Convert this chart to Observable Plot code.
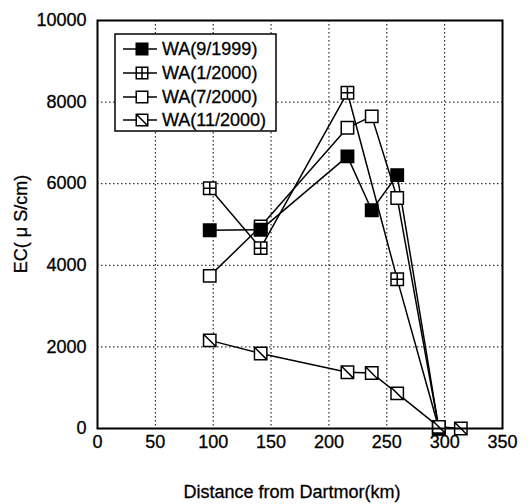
<!DOCTYPE html>
<html>
<head>
<meta charset="utf-8">
<script src="https://cdn.jsdelivr.net/npm/d3@7"></script>
<script src="https://cdn.jsdelivr.net/npm/@observablehq/plot@0.6"></script>
<style>
  body { margin: 0; background: #fff; }
  #chart { width: 531px; height: 504px; }
  #chart svg text { stroke: black; stroke-width: 0.3px; }
</style>
</head>
<body>
<div id="chart"></div>
<script>
// EC along the river, by distance from Dartmor, four sampling campaigns
const seriesNames = ["WA(9/1999)", "WA(1/2000)", "WA(7/2000)", "WA(11/2000)"];

const dist1999 = [97, 141, 216, 237, 259, 295];
const ec1999   = [4860, 4870, 6670, 5350, 6210, 0];

const dist0100 = [97, 141, 216, 259, 295];
const ec0100   = [5890, 4420, 8230, 3660, 0];

const dist0700 = [97, 141, 216, 237, 259, 295];
const ec0700   = [3740, 4950, 7370, 7650, 5650, 0];

const dist1100 = [97, 141, 216, 237, 259, 295, 314];
const ec1100   = [2160, 1840, 1380, 1360, 860, 40, 0];

const xTicks = [0, 50, 100, 150, 200, 250, 300, 350];
const yTicks = [0, 2000, 4000, 6000, 8000, 10000];

// square with a cross inside
const squarePlus = {
  draw(ctx, size) {
    const s = Math.sqrt(size) / 2;
    ctx.moveTo(-s, -s); ctx.lineTo(s, -s); ctx.lineTo(s, s); ctx.lineTo(-s, s); ctx.closePath();
    ctx.moveTo(0, -s); ctx.lineTo(0, s);
    ctx.moveTo(-s, 0); ctx.lineTo(s, 0);
  }
};
// square with a diagonal
const squareSlash = {
  draw(ctx, size) {
    const s = Math.sqrt(size) / 2;
    ctx.moveTo(-s, -s); ctx.lineTo(s, -s); ctx.lineTo(s, s); ctx.lineTo(-s, s); ctx.closePath();
    ctx.moveTo(-s, -s); ctx.lineTo(s, s);
  }
};

const rows = (name, xs, ys) => xs.map((x, i) => ({ series: name, x, y: ys[i] }));
const d1999 = rows(seriesNames[0], dist1999, ec1999);
const d0100 = rows(seriesNames[1], dist0100, ec0100);
const d0700 = rows(seriesNames[2], dist0700, ec0700);
const d1100 = rows(seriesNames[3], dist1100, ec1100);

const styles = [
  { data: d1999, symbol: "square", fill: "black" },
  { data: d0100, symbol: squarePlus, fill: "white" },
  { data: d0700, symbol: "square", fill: "white" },
  { data: d1100, symbol: squareSlash, fill: "white" }
];
const drawOrder = [1, 2, 0, 3];

const font = "'Liberation Sans', Arial, Helvetica, sans-serif";
const R = 7;

const chart = Plot.plot({
  width: 531,
  height: 504,
  marginLeft: 97,
  marginRight: 29,
  marginTop: 20,
  marginBottom: 76,
  x: { domain: [0, 350] },
  y: { domain: [0, 10000] },
  style: { fontFamily: font, fontSize: "18px", color: "black", background: "white" },
  marks: [
    Plot.gridX(xTicks.filter(d => d > 0 && d < 350), { stroke: "black", strokeOpacity: 1, strokeWidth: 1, strokeDasharray: "1.5,2.5" }),
    Plot.gridY(yTicks.filter(d => d > 0 && d < 10000), { stroke: "black", strokeOpacity: 1, strokeWidth: 1, strokeDasharray: "1.5,2.5" }),
    Plot.axisX(xTicks, { tickSize: 0, tickPadding: 7, label: null, fontSize: 18 }),
    Plot.axisY(yTicks, { tickSize: 0, tickPadding: 11, label: null, fontSize: 18, tickFormat: d => String(d) }),
    ...styles.map(s => Plot.line(s.data, { x: "x", y: "y", stroke: "black", strokeWidth: 1.5 })),
    ...drawOrder.map(i => Plot.dot(styles[i].data, {
      x: "x", y: "y", r: R, symbol: styles[i].symbol,
      fill: styles[i].fill, stroke: "black", strokeWidth: 1.5
    })),
    Plot.frame({ stroke: "black", strokeWidth: 2 })
  ]
});

const svg = d3.select(chart);

// axis titles
svg.append("text")
  .attr("x", 292).attr("y", 498)
  .attr("text-anchor", "middle")
  .attr("font-family", font).attr("font-size", 18)
  .text("Distance from Dartmor(km)");

svg.append("text")
  .attr("transform", "translate(27,224) rotate(-90)")
  .attr("text-anchor", "middle")
  .attr("font-family", font).attr("font-size", 18)
  .text("EC( μ S/cm)");

// legend
const lg = svg.append("g");
lg.append("rect")
  .attr("x", 115).attr("y", 34).attr("width", 161).attr("height", 97)
  .attr("fill", "white").attr("stroke", "black").attr("stroke-width", 1.5);
const rowY = [49, 73, 97, 120];
styles.forEach((s, i) => {
  const y = rowY[i];
  lg.append("line").attr("x1", 123).attr("x2", 157).attr("y1", y).attr("y2", y)
    .attr("stroke", "black").attr("stroke-width", 1.5);
  const sym = typeof s.symbol === "string" ? d3.symbolSquare : s.symbol;
  lg.append("path")
    .attr("d", d3.symbol(sym, Math.PI * 6.5 * 6.5)())
    .attr("transform", `translate(142,${y})`)
    .attr("fill", s.fill).attr("stroke", "black").attr("stroke-width", 1.5);
  lg.append("text")
    .attr("x", 162).attr("y", y).attr("dy", "0.35em")
    .attr("text-anchor", "start")
    .attr("font-family", font).attr("font-size", 18)
    .text(seriesNames[i]);
});

document.getElementById("chart").appendChild(chart);
</script>
</body>
</html>
